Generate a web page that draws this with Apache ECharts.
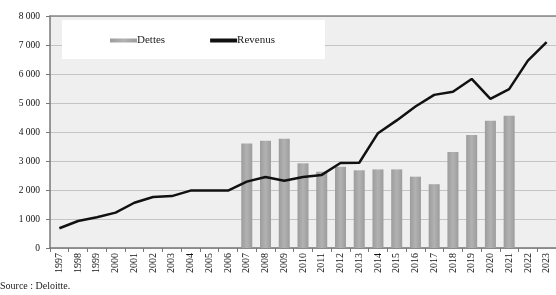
<!DOCTYPE html>
<html>
<head>
<meta charset="utf-8">
<script src="https://cdn.jsdelivr.net/npm/echarts@6/dist/echarts.min.js"></script>
<style>
html, body { margin: 0; padding: 0; background: #fff; }
#main { width: 556px; height: 295px; }
</style>
</head>
<body>
<div id="main"></div>
<script>
var years = ['1997','1998','1999','2000','2001','2002','2003','2004','2005','2006','2007','2008','2009','2010',
    '2011','2012','2013','2014','2015','2016','2017','2018','2019','2020','2021','2022','2023'];
var dettes = [null,null,null,null,null,null,null,null,null,null,3600,3700,3770,2920,
    2630,2800,2680,2710,2710,2460,2200,3310,3900,4390,4560,null,null];
var revenus = [680,930,1060,1220,1560,1760,1790,1980,1980,1980,2290,2450,2320,2450,
    2520,2930,2940,3960,4400,4880,5280,5390,5830,5140,5480,6460,7100];
var yTicks = [0, 8000, 1000];

var chart = echarts.init(document.getElementById('main'));
var serif = '"Liberation Serif", "DejaVu Serif", serif';
chart.setOption({
    animation: false,
    backgroundColor: '#fff',
    textStyle: { fontFamily: serif },
    title: {
        text: 'Source : Deloitte.',
        left: 0,
        bottom: 4,
        padding: 0,
        textStyle: { fontFamily: serif, fontSize: 10, fontWeight: 'normal', color: '#222' }
    },
    legend: {
        left: 62,
        top: 20,
        padding: [15, 50, 13, 48],
        backgroundColor: '#fff',
        itemGap: 45,
        itemWidth: 27,
        itemHeight: 4,
        textStyle: { fontFamily: serif, fontSize: 11, color: '#222', padding: [2, 0, 0, -5] },
        data: [
            { name: 'Dettes', icon: 'rect' },
            { name: 'Revenus', icon: 'rect', itemStyle: { color: '#111' } }
        ]
    },
    grid: {
        left: 50,
        right: -5,
        top: 16,
        bottom: 47,
        show: true,
        backgroundColor: '#efefef',
        borderWidth: 0
    },
    xAxis: [{
        type: 'category',
        data: years,
        axisLine: { lineStyle: { color: '#777', width: 1.5 } },
        axisTick: { show: true, length: 4, lineStyle: { color: '#777' } },
        axisLabel: { rotate: 90, fontSize: 10, color: '#111', margin: 5, fontFamily: serif }
    }, {
        type: 'category',
        data: years,
        position: 'top',
        axisLine: { lineStyle: { color: '#888', width: 1.5 } },
        axisTick: { show: false },
        axisLabel: { show: false }
    }],
    yAxis: {
        type: 'value',
        min: yTicks[0],
        max: yTicks[1],
        interval: yTicks[2],
        axisLine: { show: true, lineStyle: { color: '#777', width: 1.5 } },
        axisTick: { show: true, length: 4, lineStyle: { color: '#777' } },
        splitLine: { lineStyle: { color: '#c4c4c4', width: 1 } },
        axisLabel: {
            fontSize: 9.5,
            color: '#111',
            margin: 10,
            fontFamily: serif,
            formatter: function (v) {
                return String(v).replace(/\B(?=(\d{3})+(?!\d))/g, ' ');
            }
        }
    },
    series: [{
        name: 'Dettes',
        type: 'bar',
        data: dettes,
        barWidth: 11,
        itemStyle: {
            color: new echarts.graphic.LinearGradient(0, 0, 1, 0, [
                { offset: 0, color: '#9c9c9c' },
                { offset: 0.5, color: '#b2b2b2' },
                { offset: 1, color: '#9c9c9c' }
            ])
        }
    }, {
        name: 'Revenus',
        type: 'line',
        data: revenus,
        symbol: 'none',
        lineStyle: { color: '#111', width: 2.5 },
        itemStyle: { color: '#111' }
    }]
});
</script>
</body>
</html>
